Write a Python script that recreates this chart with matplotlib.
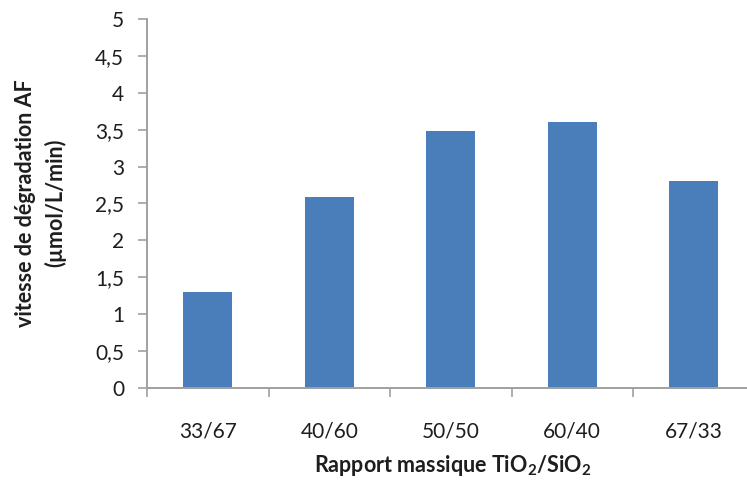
import numpy as np
import matplotlib
matplotlib.use('Agg')
import matplotlib.pyplot as plt
from matplotlib.ticker import FuncFormatter, FixedLocator

plt.rcParams['font.family'] = ['Lato', 'DejaVu Sans']
plt.rcParams['mathtext.fontset'] = 'custom'
plt.rcParams['mathtext.rm'] = 'Lato'
plt.rcParams['mathtext.bf'] = 'Lato:bold'

# data
ratios = ['33/67', '40/60', '50/50', '60/40', '67/33']
rates = [1.30, 2.59, 3.48, 3.60, 2.80]

bar_color = '#4a7ebb'
axis_color = '#a0a0a0'
text_color = '#1e1e1e'

fig = plt.figure(figsize=(7.47, 4.94), dpi=100)
ax = fig.add_axes([147 / 747, 106 / 494, 607.5 / 747, 369 / 494])

x = np.arange(len(ratios))
ax.bar(x, rates, width=0.4, color=bar_color, zorder=2)

ax.set_xlim(-0.5, len(ratios) - 0.5)
ax.set_ylim(0, 5)

# y axis
ax.set_yticks(np.arange(0, 5.01, 0.5))
ax.yaxis.set_major_formatter(FuncFormatter(lambda v, p: ('%g' % v).replace('.', ',')))
ax.tick_params(axis='y', direction='out', length=6.5, width=1.2, color=axis_color,
               labelsize=15, labelcolor=text_color, pad=10)

# x axis: ticks at category boundaries, labels at centres
ax.xaxis.set_major_locator(FixedLocator(np.arange(-0.5, len(ratios), 1.0)))
ax.xaxis.set_major_formatter(FuncFormatter(lambda v, p: ''))
ax.xaxis.set_minor_locator(FixedLocator(x))
ax.set_xticklabels(ratios, minor=True)
ax.tick_params(axis='x', which='major', direction='out', length=6.5, width=1.2, color=axis_color)
ax.tick_params(axis='x', which='minor', length=0, labelsize=15, labelcolor=text_color, pad=24)

for s in ['top', 'right']:
    ax.spines[s].set_visible(False)
for s in ['left', 'bottom']:
    ax.spines[s].set_color(axis_color)
    ax.spines[s].set_linewidth(1.4)

fig.text(41 / 747, 1 - 203 / 494, 'vitesse de dégradation AF\n(µmol/L/min)',
         rotation=90, ha='center', va='center', fontsize=15.5, fontweight='bold',
         color=text_color, linespacing=1.45)
fig.text(453 / 747, 1 - 465 / 494, r'Rapport massique TiO$_\mathbf{2}$/SiO$_\mathbf{2}$',
         ha='center', va='center', fontsize=15.5, fontweight='bold', color=text_color)

fig.savefig('out.png', dpi=100)
